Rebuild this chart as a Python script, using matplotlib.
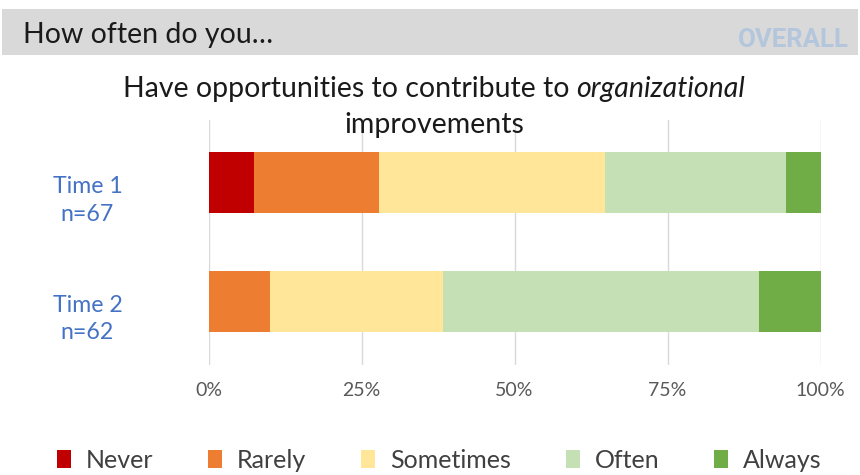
import numpy as np
import matplotlib.pyplot as plt
import matplotlib.transforms as mtransforms
from matplotlib.patches import Rectangle

plt.rcParams['font.family'] = ['Lato', 'DejaVu Sans']

groups = ["Time 1\nn=67", "Time 2\nn=62"]
responses = ["Never", "Rarely", "Sometimes", "Often", "Always"]
colors = ["#c00000", "#ed7d31", "#ffe699", "#c5e0b4", "#70ad47"]

# share of respondents (%) per response, one list per time point
never = [7.5, 0.0]
rarely = [20.3, 10.0]
sometimes = [37.0, 28.3]
often = [29.5, 51.7]
always = [5.7, 10.0]

W, H = 860, 475
fig = plt.figure(figsize=(W / 100, H / 100), dpi=100)


def fx(px):
    return px / W


def fy(py):
    return 1 - py / H


# grey header band
fig.patches.append(Rectangle((fx(2), fy(55)), fx(856), 46 / H,
                             transform=fig.transFigure, facecolor="#d9d9d9",
                             edgecolor="none", zorder=0))
fig.text(fx(23), fy(43), "How often do you\u2026", fontsize=20.5,
         color="#1a1a1a", va="baseline", ha="left")
fig.text(fx(849), fy(47), "OVERALL", fontsize=18.5, fontweight="bold",
         family=["Roboto", "DejaVu Sans"], color="#b4c6dc", va="baseline", ha="right")

# title, with the italic word set separately
renderer = fig.canvas.get_renderer()
t1 = fig.text(0, fy(97), "Have opportunities to contribute to ", fontsize=20.5,
              ha="left", va="baseline", color="#1a1a1a")
t2 = fig.text(0, fy(97), "organizational", fontsize=20.5, style="italic",
              ha="left", va="baseline", color="#1a1a1a")
w1 = t1.get_window_extent(renderer).width
w2 = t2.get_window_extent(renderer).width
x0 = 434 - (w1 + w2) / 2
t1.set_x(fx(x0))
t2.set_x(fx(x0 + w1))
fig.text(fx(434), fy(133), "improvements", fontsize=20.5,
         ha="center", va="baseline", color="#1a1a1a")

ax = fig.add_axes([fx(208.5), fy(365), 612 / W, 245 / H])

y = np.arange(len(groups))
left = np.zeros(len(groups))
for name, vals, c in zip(responses, [never, rarely, sometimes, often, always], colors):
    ax.barh(y, vals, left=left, height=0.515, color=c, label=name, zorder=3)
    left += np.array(vals)

ax.set_xlim(0, 100)
ax.set_ylim(1.54, -0.53)
ax.set_xticks([0, 25, 50, 75, 100])
ax.set_xticklabels(["0%", "25%", "50%", "75%", "100%"], color="#595959", fontsize=14)
ax.set_yticks(y)
ax.set_yticklabels([])
ax.tick_params(axis="both", length=0)
ax.tick_params(axis="x", pad=12)
ax.grid(axis="x", color="#d9d9d9", linewidth=1, zorder=0)
for s in ax.spines.values():
    s.set_visible(False)

# group labels sit a little below the bar centres
lab_tr = mtransforms.blended_transform_factory(fig.transFigure, ax.transData)
lab_tr = lab_tr + mtransforms.ScaledTranslation(0, -0.18, fig.dpi_scale_trans)
for yi, g in zip(y, groups):
    ax.text(fx(87.5), yi, g, transform=lab_tr, ha="center", va="center",
            color="#4472c4", fontsize=16.7, linespacing=1.4)

fig.legend(loc="center", bbox_to_anchor=(0.511, fy(460)), ncol=5,
           frameon=False, fontsize=18, handlelength=0.55, handleheight=0.75,
           handletextpad=0.6, columnspacing=2.2, labelcolor="#404040")

fig.savefig("out.png", dpi=100)
